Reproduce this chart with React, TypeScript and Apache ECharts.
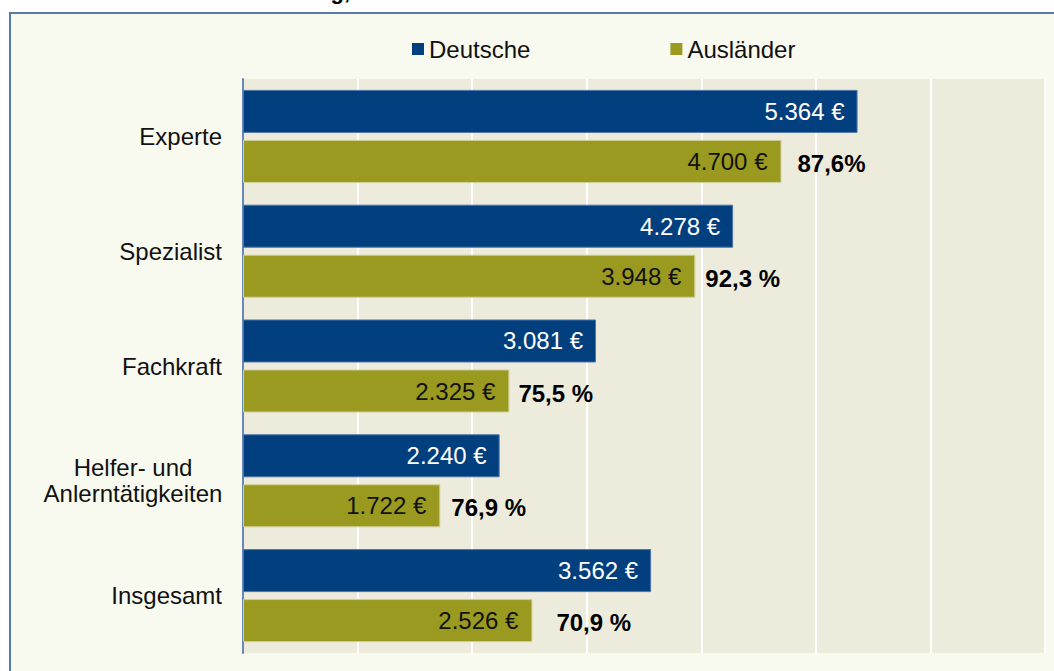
import React, { useEffect, useRef } from "react";
import * as echarts from "echarts";

const categories = ["Experte", "Spezialist", "Fachkraft", "Helfer- und Anlerntätigkeiten", "Insgesamt"];
const deutsche = [5364, 4278, 3081, 2240, 3562];
const auslaender = [4700, 3948, 2325, 1722, 2526];
const anteil = ["87,6%", "92,3 %", "75,5 %", "76,9 %", "70,9 %"];
const seriesNames = ["Deutsche", "Ausländer"];
const titleText = "Anforderung,";

const pctLabelGap = [16, 10, 9, 11, 24];

const FONT = "Liberation Sans, Arial, sans-serif";
const BLUE = "#023f7e";
const GOLD = "#999a1f";
const FS = 24;

const fmtEuro = (v: number) => {
  const s = String(v);
  return (s.length > 3 ? s.slice(0, s.length - 3) + "." + s.slice(-3) : s) + " €";
};

export default function App() {
  const ref = useRef<HTMLDivElement>(null);
  useEffect(() => {
    document.body.style.margin = "0";
    const chart = echarts.init(ref.current!, null, { renderer: "svg" });
    const catLabelFormatter = (v: string) =>
      v === "Helfer- und Anlerntätigkeiten" ? "{c|Helfer- und}\n{c|Anlerntätigkeiten}" : v;
    const barBase = { type: "bar", barWidth: 43, barGap: "16.3%" };
    chart.setOption({
      animation: false,
      backgroundColor: "#ffffff",
      textStyle: { fontFamily: FONT },
      graphic: [
        {
          type: "rect",
          z: -10,
          shape: { x: 10, y: 13, width: 1100, height: 700 },
          style: { fill: "#f8f9ef", stroke: "#5a78ad", lineWidth: 2 },
        },
        {
          type: "text",
          x: 350,
          y: 2,
          style: {
            text: titleText,
            font: "bold 22px " + FONT,
            fill: "#000",
            textAlign: "right",
            textVerticalAlign: "bottom",
          },
        },
      ],
      legend: {
        data: seriesNames,
        left: 407,
        top: 32,
        itemWidth: 12,
        itemHeight: 12,
        itemGap: 140,
        icon: "rect",
        itemStyle: { borderWidth: 0 },
        textStyle: { fontSize: FS, color: "#111", fontFamily: FONT },
      },
      grid: {
        left: 243,
        top: 79,
        right: 9,
        bottom: 18,
        show: true,
        backgroundColor: "#edebdc",
        borderWidth: 0,
      },
      xAxis: {
        type: "value",
        min: 0,
        max: 7000,
        interval: 1000,
        axisLabel: { show: false },
        axisLine: { show: false },
        axisTick: { show: false },
        splitLine: { show: true, lineStyle: { color: "#ffffff", width: 2 } },
      },
      yAxis: [
        {
          type: "category",
          data: categories,
          inverse: true,
          axisTick: { show: false },
          axisLine: { show: true, lineStyle: { color: "#6a86b6", width: 2 } },
          axisLabel: {
            fontSize: FS,
            color: "#111",
            fontFamily: FONT,
            margin: 21,
            lineHeight: 26,
            formatter: catLabelFormatter,
            rich: {
              c: { fontSize: FS, color: "#111", fontFamily: FONT, width: 178, align: "center", lineHeight: 26 },
            },
          },
        },
        {
          type: "category",
          data: categories,
          inverse: true,
          show: false,
        },
      ],
      series: [
        {
          ...barBase,
          name: seriesNames[0],
          yAxisIndex: 0,
          data: deutsche,
          itemStyle: { color: BLUE, borderColor: "#4f74a8", borderWidth: 1 },
          label: {
            show: true,
            position: "insideRight",
            distance: 13,
            color: "#ffffff",
            fontSize: FS,
            fontFamily: FONT,
            formatter: (p: any) => fmtEuro(p.value),
          },
        },
        {
          ...barBase,
          name: seriesNames[1],
          yAxisIndex: 0,
          data: auslaender,
          itemStyle: { color: GOLD, borderColor: "#cfcf96", borderWidth: 1 },
          label: {
            show: true,
            position: "insideRight",
            distance: 14,
            color: "#111",
            fontSize: FS,
            fontFamily: FONT,
            formatter: (p: any) => fmtEuro(p.value),
          },
        },
        {
          ...barBase,
          name: "_blank",
          yAxisIndex: 1,
          silent: true,
          data: deutsche,
          itemStyle: { color: "rgba(0,0,0,0)" },
        },
        {
          ...barBase,
          name: "_pct",
          yAxisIndex: 1,
          silent: true,
          data: auslaender.map((v, i) => ({
            value: v,
            label: { distance: pctLabelGap[i] },
          })),
          itemStyle: { color: "rgba(0,0,0,0)" },
          label: {
            show: true,
            position: "right",
            color: "#000",
            fontSize: FS,
            fontWeight: "bold",
            fontFamily: FONT,
            offset: [0, 2],
            formatter: (p: any) => anteil[p.dataIndex],
          },
        },
      ],
    });
    return () => chart.dispose();
  }, []);
  return <div ref={ref} style={{ width: 1054, height: 671 }} />;
}
